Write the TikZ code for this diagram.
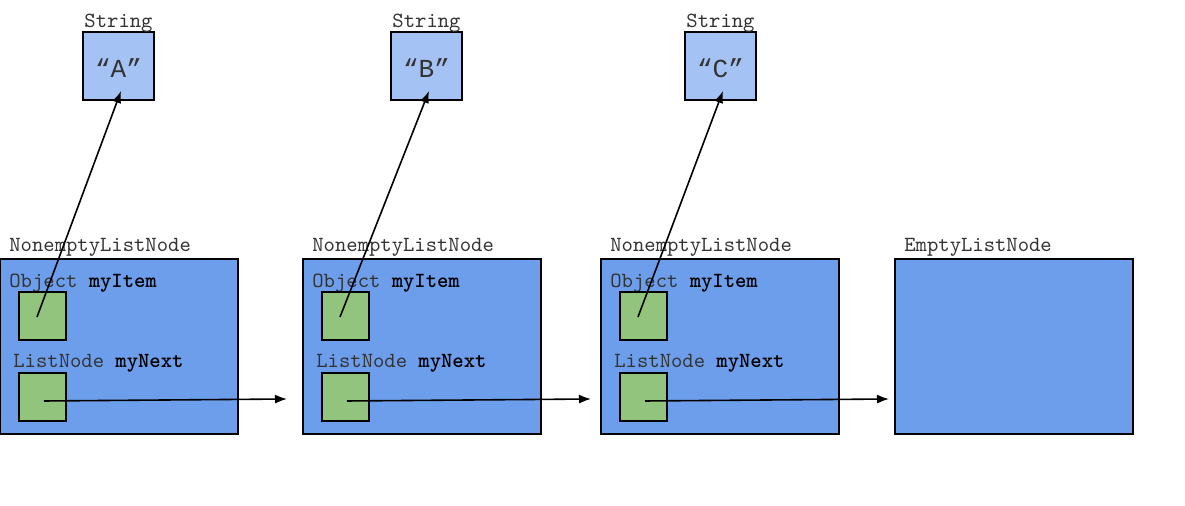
\documentclass[tikz,border=0pt]{standalone}
\usepackage{fontspec}
\newfontfamily\quotemono{Liberation Mono}
\usetikzlibrary{arrows.meta}
\definecolor{bigblue}{HTML}{6D9EEB}
\definecolor{lightblue}{HTML}{A4C2F4}
\definecolor{fieldgreen}{HTML}{93C47D}
\definecolor{labelgrey}{HTML}{333333}
\begin{document}
\begin{tikzpicture}[x=0.5pt,y=-0.5pt,
  bigbox/.style={draw=black, fill=bigblue, line width=0.75pt},
  strbox/.style={draw=black, fill=lightblue, line width=0.75pt},
  fieldbox/.style={draw=black, fill=fieldgreen, line width=0.75pt},
  lbl/.style={font=\ttfamily\fontsize{10.8}{12}\selectfont, text=labelgrey, inner sep=0pt, anchor=west},
  strtxt/.style={font=\quotemono\fontsize{13}{15}\selectfont, text=labelgrey, inner sep=0pt},
  ptr/.style={line width=0.8pt, -{Latex[length=6pt,width=4.5pt]}}
]
\useasboundingbox (0,0) rectangle (1185,506);
% String boxes
\foreach \n/\x/\t in {A/83/A,B/391/B,C/685/C}{
  \draw[strbox] (\x,32) rectangle ++(71,68);
  \node[strtxt] (str\n) at (\x+35.5,68) {“\t”};
  \node[lbl, anchor=center] (strlbl\n) at (\x+35.5,23) {String};
  \coordinate (tip\n) at (\x+38,91);
}
% list nodes
\foreach \n/\x/\title in {1/0/NonemptyListNode,2/303/NonemptyListNode,3/601/NonemptyListNode}{
  \draw[bigbox] (\x,259) rectangle ++(238,175);
  \node[lbl] (title\n) at (\x+9,247) {\title};
  \node[lbl] (itemlbl\n) at (\x+9,283) {Object \textcolor{black}{\bfseries myItem}};
  \draw[fieldbox] (\x+19,292) rectangle ++(47,48);
  \node[lbl] (nextlbl\n) at (\x+13,363) {ListNode \textcolor{black}{\bfseries myNext}};
  \draw[fieldbox] (\x+19,373) rectangle ++(47,48);
  \coordinate (itemsrc\n) at (\x+37,317);
  \coordinate (nextsrc\n) at (\x+44,401);
}
\draw[bigbox] (895,259) rectangle ++(238,175);
\node[lbl] (title4) at (904,247) {EmptyListNode};
% targets of next pointers
\coordinate (nexttip1) at (287,399);
\coordinate (nexttip2) at (591,399);
\coordinate (nexttip3) at (889,399);
% pointers
\draw[ptr] (itemsrc1) -- (tipA);
\draw[ptr] (itemsrc2) -- (tipB);
\draw[ptr] (itemsrc3) -- (tipC);
\draw[ptr] (nextsrc1) -- (nexttip1);
\draw[ptr] (nextsrc2) -- (nexttip2);
\draw[ptr] (nextsrc3) -- (nexttip3);
\end{tikzpicture}
\end{document}
